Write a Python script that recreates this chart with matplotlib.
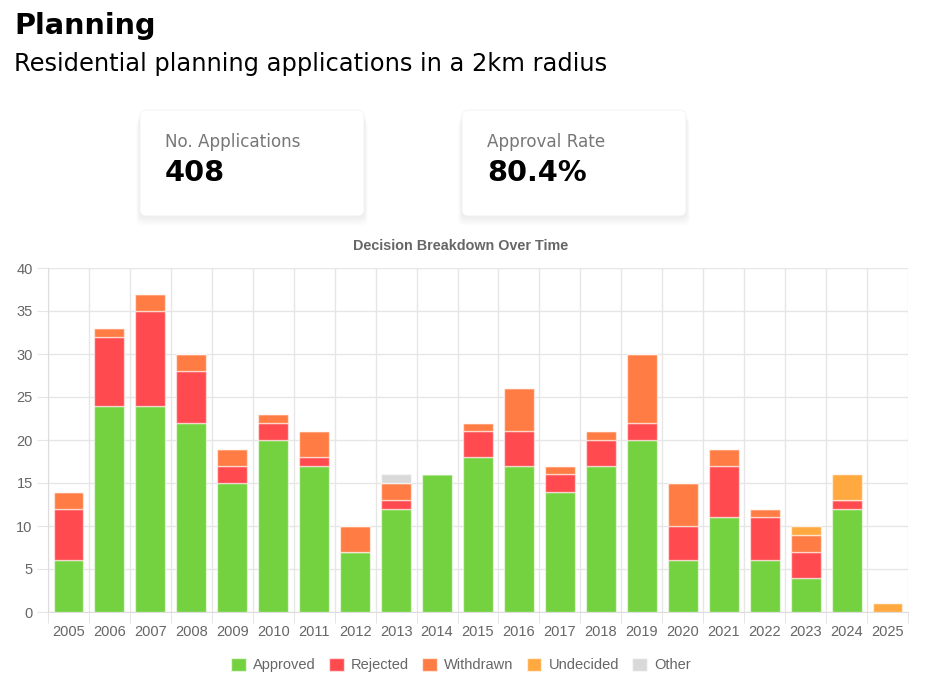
import numpy as np
import matplotlib
matplotlib.use("Agg")
import matplotlib.pyplot as plt
from matplotlib.patches import FancyBboxPatch, Rectangle

# ***** data
years = [str(y) for y in range(2005, 2026)]
approved  = [6, 24, 24, 22, 15, 20, 17, 7, 12, 16, 18, 17, 14, 17, 20, 6, 11, 6, 4, 12, 0]
rejected  = [6, 8, 11, 6, 2, 2, 1, 0, 1, 0, 3, 4, 2, 3, 2, 4, 6, 5, 3, 1, 0]
withdrawn = [2, 1, 2, 2, 2, 1, 3, 3, 2, 0, 1, 5, 1, 1, 8, 5, 2, 1, 2, 0, 0]
undecided = [0, 0, 0, 0, 0, 0, 0, 0, 0, 0, 0, 0, 0, 0, 0, 0, 0, 0, 1, 3, 1]
other     = [0, 0, 0, 0, 0, 0, 0, 0, 1, 0, 0, 0, 0, 0, 0, 0, 0, 0, 0, 0, 0]

series = ["Approved", "Rejected", "Withdrawn", "Undecided", "Other"]
colors = ["#74d13f", "#ff4a4f", "#ff7c44", "#ffa940", "#d9d9d9"]

n_apps = 408
approval_rate = "80.4%"

W, H = 935, 685
fig = plt.figure(figsize=(W / 100, H / 100), dpi=100)


def fx(px):
    return px / W


def fy(py):
    return 1 - py / H


# ***** header
fig.text(fx(14), fy(26), "Planning", fontsize=20.7, fontweight="bold",
         family="DejaVu Sans", va="center", ha="left")
fig.text(fx(14), fy(64), "Residential planning applications in a 2km radius",
         fontsize=17.4, family="DejaVu Sans", va="center", ha="left")

# ***** stat cards
cards = [(140, "No. Applications", str(n_apps)), (462, "Approval Rate", approval_rate)]
for x0, label, value in cards:
    cw, ch = 224, 106
    for k in range(6, 0, -1):
        sh = FancyBboxPatch((fx(x0 - k * 0.6), fy(110 + ch + k * 1.6)),
                            fx(cw + k * 1.2), ch / H,
                            boxstyle="round,pad=0,rounding_size=0.008",
                            transform=fig.transFigure, facecolor="black",
                            edgecolor="none", alpha=0.012, zorder=1)
        fig.add_artist(sh)
    card = FancyBboxPatch((fx(x0), fy(110 + ch)), fx(cw), ch / H,
                          boxstyle="round,pad=0,rounding_size=0.008",
                          transform=fig.transFigure, facecolor="white",
                          edgecolor="#f2f2f2", linewidth=0.6, zorder=2)
    fig.add_artist(card)
    fig.text(fx(x0 + 25), fy(142), label, fontsize=12.1, color="#777777",
             family="DejaVu Sans", va="center", ha="left", zorder=3)
    fig.text(fx(x0 + 25), fy(173), value, fontsize=20.7, fontweight="bold",
             family="DejaVu Sans", va="center", ha="left", zorder=3)

# ***** bar chart
ax = fig.add_axes([fx(48), fy(612), fx(908) - fx(48), (612 - 268) / H])
x = np.arange(len(years))
bottom = np.zeros(len(years))
handles = []
for name, vals, c in zip(series, [approved, rejected, withdrawn, undecided, other], colors):
    vals = np.array(vals, dtype=float)
    ax.bar(x, vals, bottom=bottom, width=0.73, color=c,
           edgecolor=(1, 1, 1, 0.55), linewidth=1.0, zorder=3, label=name)
    bottom += vals
    handles.append(Rectangle((0, 0), 1, 1, facecolor=c, edgecolor=(1, 1, 1, 0.6)))

ax.set_xlim(-0.5, len(years) - 0.5)
ax.set_ylim(0, 40)
ax.set_yticks(range(0, 41, 5))
ax.set_xticks(x)
ax.set_xticklabels(years)
ax.set_xticks(np.arange(-0.5, len(years)), minor=True)

for s in ["top", "right"]:
    ax.spines[s].set_visible(False)
ax.spines["left"].set_color("#dddddd")
ax.spines["bottom"].set_color("#dddddd")

ax.grid(axis="y", color="#e6e6e6", linewidth=1, zorder=0)
ax.grid(axis="x", which="minor", color="#e6e6e6", linewidth=1, zorder=0)
ax.tick_params(axis="x", which="major", length=0, pad=9, labelsize=10.5,
               labelcolor="#666666")
ax.tick_params(axis="x", which="minor", length=8, color="#e0e0e0")
ax.tick_params(axis="y", length=8, color="#e6e6e6", pad=3, labelsize=10.5,
               labelcolor="#666666")
for lbl in ax.get_xticklabels() + ax.get_yticklabels():
    lbl.set_family("Liberation Sans")

fig.text(fx(461), fy(246), "Decision Breakdown Over Time", fontsize=10.4,
         fontweight="bold", color="#666666", family="Liberation Sans",
         ha="center", va="center")

leg = fig.legend(handles, series, loc="center", bbox_to_anchor=(fx(461), fy(665)),
                 ncol=5, frameon=False, handlelength=1.0, handleheight=1.0,
                 handletextpad=0.5, columnspacing=0.9,
                 prop={"family": "Liberation Sans", "size": 10.5})
for t in leg.get_texts():
    t.set_color("#666666")

plt.savefig("out.png", dpi=100)
